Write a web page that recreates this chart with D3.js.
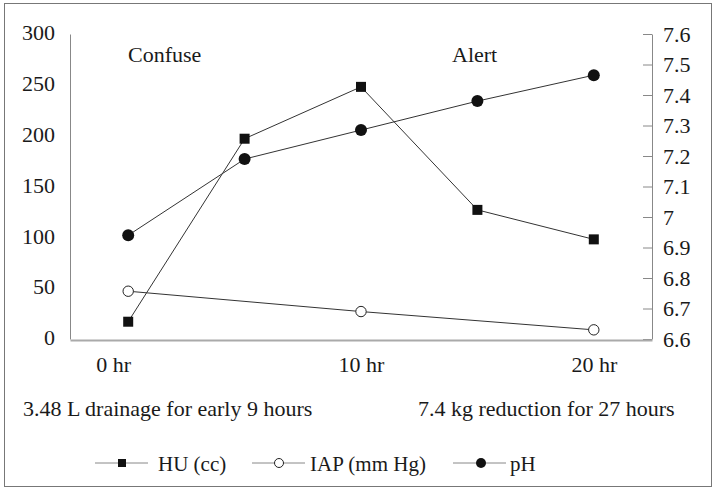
<!DOCTYPE html>
<html lang="en">
<head>
<meta charset="UTF-8">
<title>HU, IAP and pH</title>
<script src="https://cdn.jsdelivr.net/npm/d3@7"></script>
<style>
  body { margin: 0; background: #fff; }
</style>
</head>
<body>
<script>
// values
const timepoints = ["t1", "t2", "t3", "t4", "t5"];
const xTickLabels = ["0 hr", "", "10 hr", "", "20 hr"];
const huValues = [17, 197, 248, 127, 98];
const iapValues = [47, null, 27, null, 9];
const phValues = [6.94, 7.19, 7.285, 7.38, 7.465];
const leftTicks = [0, 50, 100, 150, 200, 250, 300];
const rightTicks = [6.6, 6.7, 6.8, 6.9, 7, 7.1, 7.2, 7.3, 7.4, 7.5, 7.6];
const seriesNames = ["HU (cc)", "IAP (mm Hg)", "pH"];
const stateNotes = ["Confuse", "Alert"];
const footNotes = ["3.48 L drainage for early 9 hours", "7.4 kg reduction for 27 hours"];

const W = 717, H = 490;
const plotL = 70, plotR = 652, plotT = 34, plotB = 339;
const FONT = "'Liberation Serif', 'Times New Roman', serif";

const svg = d3.select("body").append("svg")
  .attr("width", W).attr("height", H)
  .style("font-family", FONT);

// outer frame
svg.append("rect")
  .attr("x", 4.5).attr("y", 3.5).attr("width", 707).attr("height", 483)
  .attr("fill", "none").attr("stroke", "#777").attr("stroke-width", 1);

const x = d3.scalePoint().domain(timepoints).range([plotL, plotR]).padding(0.5);
const yL = d3.scaleLinear().domain([0, 300]).range([plotB, plotT]);
const yR = d3.scaleLinear().domain([6.6, 7.6]).range([plotB, plotT]);

function styleText(sel, size) {
  sel.style("font-family", FONT).style("font-size", size + "px").attr("fill", "#1a1a1a");
}

// left axis
const gl = svg.append("g").attr("transform", `translate(${plotL},0)`)
  .call(d3.axisLeft(yL).tickValues(leftTicks).tickSize(0).tickPadding(15));
gl.select(".domain").attr("stroke", "#888");
styleText(gl.selectAll("text"), 22);
gl.selectAll("text").attr("dy", "0.26em");

// right axis
const gr = svg.append("g").attr("transform", `translate(${plotR},0)`)
  .call(d3.axisRight(yR).tickValues(rightTicks).tickSize(-9).tickSizeOuter(0)
    .tickPadding(11).tickFormat(d3.format("")));
gr.select(".domain").attr("stroke", "#888");
gr.selectAll(".tick line").attr("stroke", "#888");
styleText(gr.selectAll("text"), 22);

// bottom axis
const gb = svg.append("g").attr("transform", `translate(0,${plotB + 1})`)
  .call(d3.axisBottom(x).tickSize(0).tickPadding(16)
    .tickFormat((d, i) => xTickLabels[i]));
gb.select(".domain").attr("stroke", "#aaa").attr("stroke-width", 2);
styleText(gb.selectAll("text"), 22);
gb.selectAll("text").attr("dx", (d, i) => i === 0 ? -15 : 0);

// series
const lineL = d3.line().x(d => x(d.t)).y(d => yL(d.v));
const lineR = d3.line().x(d => x(d.t)).y(d => yR(d.v));
const hu = timepoints.map((t, i) => ({ t, v: huValues[i] }));
const iap = timepoints.map((t, i) => ({ t, v: iapValues[i] })).filter(d => d.v != null);
const ph = timepoints.map((t, i) => ({ t, v: phValues[i] }));

svg.append("path").datum(iap).attr("d", lineL)
  .attr("fill", "none").attr("stroke", "#333").attr("stroke-width", 1);
svg.append("path").datum(hu).attr("d", lineL)
  .attr("fill", "none").attr("stroke", "#333").attr("stroke-width", 1);
svg.append("path").datum(ph).attr("d", lineR)
  .attr("fill", "none").attr("stroke", "#333").attr("stroke-width", 1);

svg.selectAll(".hu").data(hu).enter().append("rect")
  .attr("x", d => x(d.t) - 5).attr("y", d => yL(d.v) - 5)
  .attr("width", 10).attr("height", 10).attr("fill", "#111");
svg.selectAll(".iap").data(iap).enter().append("circle")
  .attr("cx", d => x(d.t)).attr("cy", d => yL(d.v)).attr("r", 5.2)
  .attr("fill", "#fff").attr("stroke", "#222").attr("stroke-width", 1);
svg.selectAll(".ph").data(ph).enter().append("circle")
  .attr("cx", d => x(d.t)).attr("cy", d => yR(d.v)).attr("r", 6)
  .attr("fill", "#111");

// notes
const notes = svg.append("g");
notes.append("text").attr("x", 128).attr("y", 62).text(stateNotes[0]);
notes.append("text").attr("x", 452).attr("y", 62).text(stateNotes[1]);
notes.append("text").attr("x", 23).attr("y", 416).text(footNotes[0]);
notes.append("text").attr("x", 418).attr("y", 416).text(footNotes[1]);
styleText(notes.selectAll("text"), 22);

// legend
const legendX = [95, 252, 453];
const legendTextX = [158, 310, 510];
const lg = svg.append("g");
seriesNames.forEach((name, i) => {
  const g = lg.append("g").attr("transform", `translate(0,463)`);
  g.append("line").attr("x1", legendX[i]).attr("x2", legendX[i] + 53).attr("stroke", "#888");
  if (i === 0) {
    g.append("rect").attr("x", legendX[i] + 23).attr("y", -4).attr("width", 8).attr("height", 8).attr("fill", "#111");
  } else if (i === 1) {
    g.append("circle").attr("cx", legendX[i] + 27).attr("r", 4.5).attr("fill", "#fff").attr("stroke", "#222");
  } else {
    g.append("circle").attr("cx", legendX[i] + 28).attr("r", 5).attr("fill", "#111");
  }
  g.append("text").attr("x", legendTextX[i]).attr("y", 4).attr("dy", "0.2em").text(name);
});
styleText(lg.selectAll("text"), 21);
</script>
</body>
</html>
